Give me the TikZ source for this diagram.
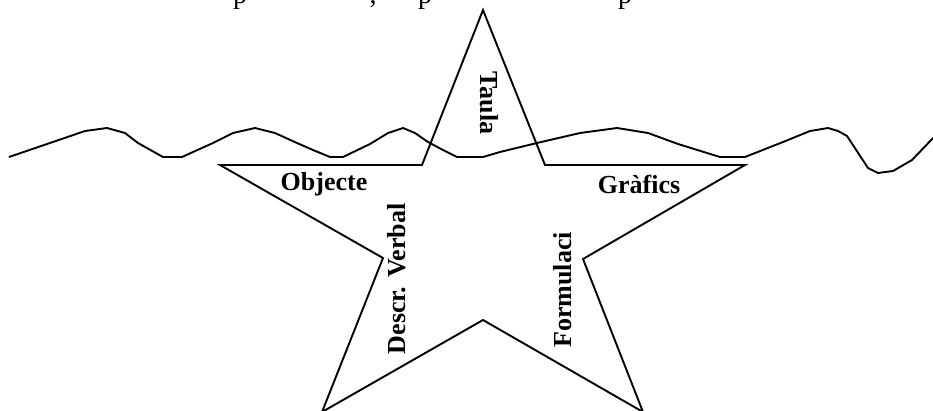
\documentclass[tikz,border=0pt]{standalone}
\usepackage{fontspec}
\setmainfont{Liberation Serif}
\begin{document}
\begin{tikzpicture}[x=1pt,y=-1pt,
  outline/.style={line width=1.9pt,line join=miter},
  lbl/.style={font=\bfseries\fontsize{26}{30}\selectfont,inner sep=0pt},
  cut/.style={font=\fontsize{28}{32}\selectfont,inner sep=0pt,anchor=base}]
\useasboundingbox (0,0) rectangle (933,410);
% cut-off text at the top
\begin{scope}
\clip (0,0) rectangle (933,410);
\node[cut] (p1) at (240,3) {p};
\node[cut] (c1) at (373,3) {,};
\node[cut] (p2) at (425,3) {p};
\node[cut] (p3) at (625,3) {p};
\end{scope}
% wavy line
\draw[outline,line join=round] (9,157) -- (85,131) -- (107,128) -- (125,133) -- (138,143) -- (163,157) -- (182,157) -- (193,152) -- (213,143) -- (233,133) -- (255,128) -- (275,133) -- (297,143) -- (313,150) -- (330,157) -- (343,157) -- (370,144) -- (388,133) -- (403,128) -- (415,133) -- (428,142) -- (443,150) -- (457,157) -- (483,157) -- (500,152) -- (537,143) -- (580,133) -- (617,128) -- (648,133) -- (678,144) -- (720,157) -- (745,157) -- (783,142) -- (810,131) -- (828,128) -- (838,131) -- (847,136) -- (868,168) -- (878,173) -- (893,171) -- (912,160) -- (935,136);
% star
\draw[outline] (483,10) -- (545,165) -- (745,165) -- (583,259) -- (643,412) -- (483,320) -- (322,412) -- (383,258) -- (220,165) -- (422,165) -- cycle;
% labels
\node[lbl,rotate=-90] (taula) at (489,103) {Taula};
\node[lbl] (obj) at (324,184) {Objecte};
\node[lbl] (graf) at (639,184) {Gràfics};
\node[lbl,rotate=90] (desc) at (397,279) {Descr. Verbal};
\node[lbl,rotate=90] (form) at (563,290) {Formulaci};
\end{tikzpicture}
\end{document}
